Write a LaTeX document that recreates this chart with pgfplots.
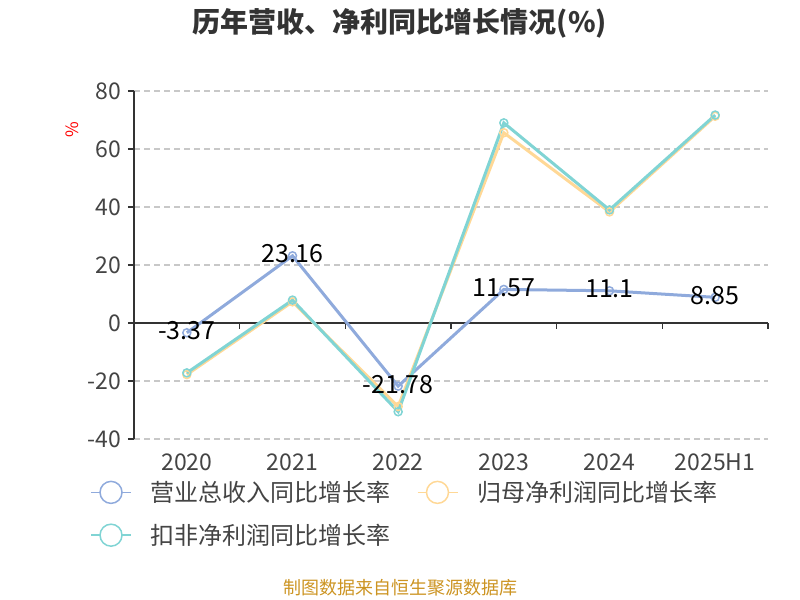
\documentclass[border=0pt]{standalone}
\usepackage{fontspec}
\setmainfont{Noto Sans CJK SC}
\usepackage{pgfplots}
\pgfplotsset{compat=1.18}
\definecolor{cRev}{RGB}{143,170,220}
\definecolor{cNet}{RGB}{255,216,150}
\definecolor{cDed}{RGB}{128,212,212}
\definecolor{axisgray}{RGB}{51,51,51}
\definecolor{txtgray}{RGB}{68,68,68}
\definecolor{gridgray}{RGB}{200,200,200}
\definecolor{srcgold}{RGB}{204,148,34}
\newcommand\fs[1]{\fontsize{#1bp}{#1bp}\selectfont}

\begin{document}
\begin{tikzpicture}
\path (0,0) rectangle (800bp,600bp);
\node[font=\fs{28}\bfseries, text=axisgray] at (400bp,577bp) {历年营收、净利同比增长情况(\%)};
\node[rotate=90, text=red, font=\fs{17}] at (72bp,470bp) {\%};
\node[text=srcgold, font=\fs{18}] at (400bp,12bp) {制图数据来自恒生聚源数据库};

% zero line with its category ticks, drawn under the series
\begin{axis}[
  at={(134bp,161bp)}, anchor=south west, scale only axis,
  width=634bp, height=348bp,
  xmin=-0.5, xmax=5.5, ymin=-40, ymax=80,
  axis x line=middle, axis y line=none,
  xtick={0.5,1.5,...,5.5}, xticklabels={}, ytick=\empty,
  tick align=outside, major tick length=6bp,
  x axis line style={axisgray, line width=1.5bp, -},
  x tick style={axisgray, line width=1.5bp},
]
\end{axis}

\begin{axis}[
  at={(134bp,161bp)}, anchor=south west, scale only axis,
  width=634bp, height=348bp,
  xmin=-0.5, xmax=5.5, ymin=-40, ymax=80,
  axis x line*=bottom, axis y line*=left,
  x axis line style={draw=none},
  y axis line style={axisgray, line width=1.5bp, -},
  xtick={0,...,5}, xticklabels={2020,2021,2022,2023,2024,2025H1},
  major x tick style={draw=none},
  ytick={-40,-20,20,40,60,80}, extra y ticks={0},
  extra y tick style={grid=none},
  y tick style={axisgray, line width=1.5bp},
  tick align=outside, major tick length=6bp,
  ymajorgrids,
  y grid style={gridgray, line width=1.2bp, dash pattern=on 6bp off 4bp},
  /pgf/number format/assume math mode=true,
  ticklabel style={font=\fs{23}, text=txtgray},
  xticklabel style={yshift=-5bp},
  yticklabel style={xshift=-3bp},
  legend columns=2,
  legend cell align=left,
  legend style={at={(-0.074,-0.11)}, anchor=north west, draw=none, fill=none,
    font=\fs{24}, text=txtgray,
    /tikz/every odd column/.append style={column sep=17bp},
    /tikz/every even column/.append style={column sep=24bp},
    row sep=17bp},
  legend image code/.code={
    \draw[#1, mark=none, line width=1.5bp] (0bp,0bp) -- (40bp,0bp);
    \draw[#1, mark=none, line width=1.5bp, fill=white] (20bp,0bp) circle (11bp);
  },
  every axis plot/.append style={line width=3bp, mark=o, mark size=4bp,
    mark options={fill=white, line width=1.5bp}},
]
\addplot[cRev] coordinates {(0,-3.37) (1,23.16) (2,-21.78) (3,11.57) (4,11.1) (5,8.85)};
\addlegendentry{营业总收入同比增长率}
\addplot[cNet] coordinates {(0,-17.8) (1,7.3) (2,-28.8) (3,65.6) (4,38.3) (5,71.3)};
\addlegendentry{归母净利润同比增长率}
\addplot[cDed] coordinates {(0,-17.2) (1,7.9) (2,-30.6) (3,69.0) (4,39.0) (5,71.7)};
\addlegendentry{扣非净利润同比增长率}
% data labels of the revenue series, set on top of all lines
\addplot[draw=none, mark=none, forget plot, nodes near coords,
  point meta=explicit symbolic,
  every node near coord/.append style={anchor=center, yshift=2bp, font=\fs{25}, text=black}]
  coordinates {(0,-3.37)[-3.37] (1,23.16)[23.16] (2,-21.78)[-21.78] (3,11.57)[11.57] (4,11.1)[11.1] (5,8.85)[8.85]};
\end{axis}
\end{tikzpicture}
\end{document}
